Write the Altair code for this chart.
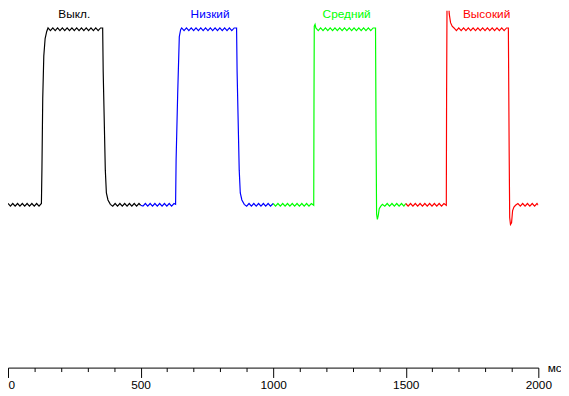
import altair as alt
import pandas as pd

# ---- waveform data (time in ms, level in % : 0 = low, 100 = high) ----
black_t = [0, 9, 18, 27, 36, 45, 54, 63, 72, 81, 90, 99, 108, 117, 126,
           128, 131, 135, 140, 146, 151,
           160, 169, 178, 187, 196, 205, 214, 223, 232, 241, 250, 259, 268, 277, 286, 295, 304, 313, 322, 331, 340, 349, 357,
           359, 367, 371, 377, 386,
           395, 404, 413, 422, 431, 440, 449, 458, 467, 476, 485, 494, 500]
black_v = [0, -1.5, 0, -1.5, 0, -1.5, 0, -1.5, 0, -1.5, 0, -1.5, 0, -1.5, 0,
           20, 60, 84, 94, 98, 100,
           98.5, 100, 98.5, 100, 98.5, 100, 98.5, 100, 98.5, 100, 98.5, 100, 98.5, 100, 98.5, 100, 98.5, 100, 98.5, 100, 98.5, 100, 100,
           75, 19, 6, 2, -0.5,
           -1.5, 0, -1.5, 0, -1.5, 0, -1.5, 0, -1.5, 0, -1.5, 0, -1]

blue_t = [500, 509, 518, 527, 536, 545, 554, 563, 572, 581, 590, 599, 608, 617, 626, 632,
          634, 640, 646, 651, 655,
          664, 673, 682, 691, 700, 709, 718, 727, 736, 745, 754, 763, 772, 781, 790, 799, 808, 817, 826, 835, 844, 853, 862,
          864, 872, 876, 882, 891,
          900, 909, 918, 927, 936, 945, 954, 963, 972, 981, 990, 1000]
blue_v = [-1, -1.5, 0, -1.5, 0, -1.5, 0, -1.5, 0, -1.5, 0, -1.5, 0, -1.5, 0, -0.5,
          25, 63, 95, 99, 100,
          98.5, 100, 98.5, 100, 98.5, 100, 98.5, 100, 98.5, 100, 98.5, 100, 98.5, 100, 98.5, 100, 98.5, 100, 98.5, 100, 98.5, 100, 100,
          75, 19, 6, 2, -0.5,
          -1.5, 0, -1.5, 0, -1.5, 0, -1.5, 0, -1.5, 0, -1.5, 0]

green_t = [1000, 1009, 1018, 1027, 1036, 1045, 1054, 1063, 1072, 1081, 1090, 1099, 1108, 1117, 1126, 1135, 1144, 1153,
           1154, 1155, 1158, 1161,
           1170, 1179, 1188, 1197, 1206, 1215, 1224, 1233, 1242, 1251, 1260, 1269, 1278, 1287, 1296, 1305, 1314, 1323,
           1332, 1341, 1350, 1359, 1368, 1377, 1386,
           1388, 1390, 1393, 1396, 1400, 1406, 1412,
           1421, 1430, 1439, 1448, 1457, 1466, 1475, 1484, 1493, 1500]
green_v = [0, -1.5, 0, -1.5, 0, -1.5, 0, -1.5, 0, -1.5, 0, -1.5, 0, -1.5, 0, -1.5, 0, -1,
           60, 101, 102, 100,
           98.5, 100, 98.5, 100, 98.5, 100, 98.5, 100, 98.5, 100, 98.5, 100, 98.5, 100, 98.5, 100, 98.5, 100,
           98.5, 100, 98.5, 100, 98.5, 100, 100,
           40, -6, -9, -7, -3, -1.5, -0.5,
           -1.5, 0, -1.5, 0, -1.5, 0, -1.5, 0, -1.5, 0]

red_t = [1500, 1509, 1518, 1527, 1536, 1545, 1554, 1563, 1572, 1581, 1590, 1599, 1608, 1617, 1626, 1635, 1644, 1653,
         1654, 1656, 1660, 1664, 1669, 1675, 1682,
         1691, 1700, 1709, 1718, 1727, 1736, 1745, 1754, 1763, 1772, 1781, 1790, 1799, 1808, 1817, 1826, 1835, 1844,
         1853, 1862, 1871, 1880, 1887,
         1890, 1892, 1895, 1899, 1903, 1908, 1914,
         1923, 1932, 1941, 1950, 1959, 1968, 1977, 1986, 1995, 2000]
red_v = [0, -1.5, 0, -1.5, 0, -1.5, 0, -1.5, 0, -1.5, 0, -1.5, 0, -1.5, 0, -1.5, 0, -1,
         60, 125, 120, 108, 103, 101, 100,
         98.5, 100, 98.5, 100, 98.5, 100, 98.5, 100, 98.5, 100, 98.5, 100, 98.5, 100, 98.5, 100, 98.5, 100,
         98.5, 100, 98.5, 100, 100,
         30, -8, -12, -11, -4, -2, -1,
         0, -1.5, 0, -1.5, 0, -1.5, 0, -1.5, 0, -1]

series_names = ["Выкл.", "Низкий", "Средний", "Высокий"]
series_colors = ["#000000", "#0000ff", "#00ff00", "#ff0000"]
label_x = [250, 762, 1277, 1805]
label_y = [108, 108, 108, 108]
tick_values = list(range(0, 2001, 100))

rows = []
for name, ts, vs in zip(series_names,
                        [black_t, blue_t, green_t, red_t],
                        [black_v, blue_v, green_v, red_v]):
    for t, v in zip(ts, vs):
        rows.append({"t": t, "v": v, "s": name})
df = pd.DataFrame(rows)
labels_df = pd.DataFrame({"x": label_x, "y": label_y, "s": series_names})

W, H = 538, 362
FONT = "Liberation Sans"
x_scale = alt.Scale(domain=[0, 2000], nice=False, zero=False)
y_scale = alt.Scale(domain=[-93.5, 109.8], nice=False, zero=False)
color_scale = alt.Scale(domain=series_names, range=series_colors)

x_axis = alt.Axis(
    values=tick_values,
    tickCount=30,
    format="d",
    labelExpr="datum.value % 500 === 0 ? datum.label : ''",
    tickSize={"condition": {"test": "datum.value % 500 === 0", "value": 10}, "value": 4},
    labelAlign={"condition": {"test": "datum.value === 0", "value": "left"}, "value": "center"},
    labelFlush=False,
    labelOverlap=False,
    labelPadding=2,
    labelFont=FONT,
    labelFontSize=12,
    labelColor="black",
    domainColor="black",
    tickColor="black",
    grid=False,
    title="мс",
    titleFont=FONT,
    titleFontSize=12,
    titleFontWeight="normal",
    titleColor="black",
    titleX=W + 9,
    titleY=0,
    titleAlign="left",
    titleBaseline="middle",
)

lines = alt.Chart(df).mark_line(strokeWidth=1.2, clip=True).encode(
    x=alt.X("t:Q", scale=x_scale, axis=x_axis),
    y=alt.Y("v:Q", scale=y_scale, axis=None),
    color=alt.Color("s:N", scale=color_scale, legend=None),
    detail="s:N",
)

labels = alt.Chart(labels_df).mark_text(font=FONT, fontSize=12, baseline="middle", align="center").encode(
    x=alt.X("x:Q", scale=x_scale),
    y=alt.Y("y:Q", scale=y_scale),
    color=alt.Color("s:N", scale=color_scale, legend=None),
    text="s:N",
)

chart = alt.layer(lines, labels).properties(
    width=W,
    height=H,
    padding={"left": 0, "top": 0, "right": 23, "bottom": 26},
    autosize=alt.AutoSizeParams(type="none"),
    background="white",
).configure_view(stroke=None)

chart.save("out.html", embed_options={"renderer": "svg", "actions": False})
